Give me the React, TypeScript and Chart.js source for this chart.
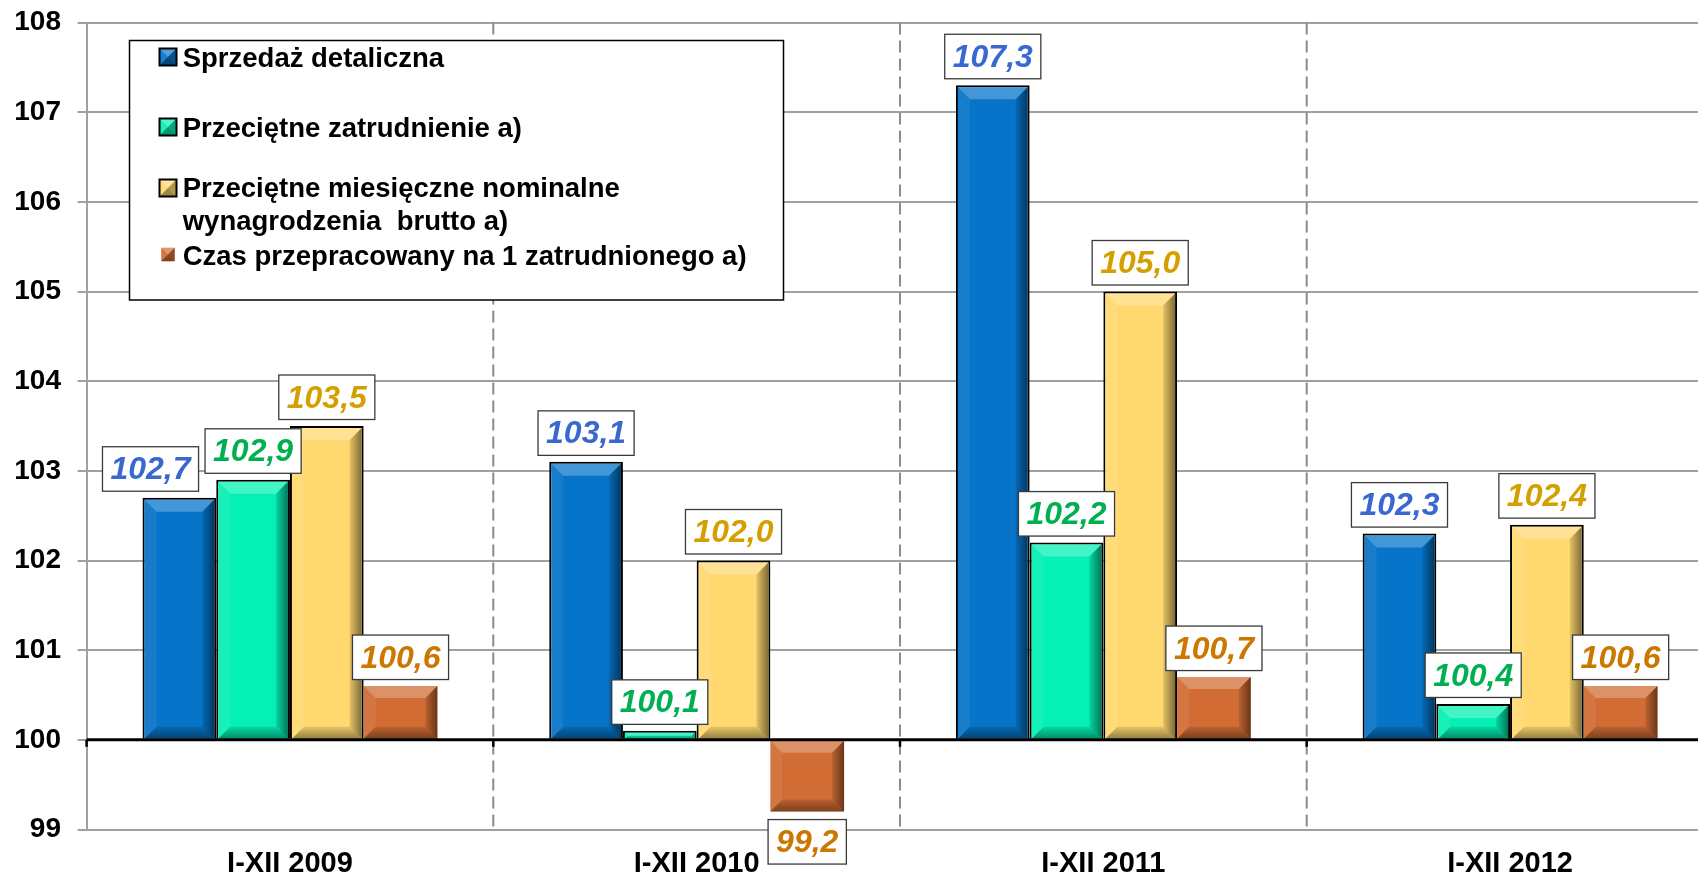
import React, { useEffect, useRef } from "react";
import { Chart, registerables } from "chart.js";

Chart.register(...registerables);

// ---------------- data ----------------
const categories = ["I-XII 2009", "I-XII 2010", "I-XII 2011", "I-XII 2012"];
const seriesNames: string[][] = [
  ["Sprzedaż detaliczna"],
  ["Przeciętne zatrudnienie a)"],
  ["Przeciętne miesięczne nominalne", "wynagrodzenia  brutto a)"],
  ["Czas przepracowany na 1 zatrudnionego a)"],
];
const retailSales = [102.7, 103.1, 107.3, 102.3];
const employment = [102.9, 100.1, 102.2, 100.4];
const wages = [103.5, 102.0, 105.0, 102.4];
const hoursWorked = [100.6, 99.2, 100.7, 100.6];
const yMin = 99;
const yMax = 108;
const baseValue = 100;

// ---------------- styles ----------------
const FONT = "'Liberation Sans', Arial, Helvetica, sans-serif";
const barColors = ["#0674C8", "#05F0B4", "#FFD970", "#D06C34"];
const labelColors = ["#3868D0", "#00B050", "#D4A000", "#CC7700"];
const barBorders = [2, 2, 2, 0];

const CANVAS_W = 1730;
const CANVAS_H = 878;

function poly(ctx: CanvasRenderingContext2D, pts: number[][]) {
  ctx.beginPath();
  ctx.moveTo(pts[0][0], pts[0][1]);
  for (let i = 1; i < pts.length; i++) ctx.lineTo(pts[i][0], pts[i][1]);
  ctx.closePath();
  ctx.fill();
}

function bevel(ctx: CanvasRenderingContext2D, l: number, t: number, r: number, b: number) {
  const s = Math.max(0, Math.min(12, (b - t) / 2, (r - l) / 2));
  if (s <= 0.5) return;
  ctx.save();
  ctx.fillStyle = "rgba(255,255,255,0.25)";
  poly(ctx, [[l, t], [r, t], [r - s, t + s], [l + s, t + s]]);
  ctx.fillStyle = "rgba(255,255,255,0.07)";
  poly(ctx, [[l, t], [l + s, t + s], [l + s, b - s], [l, b]]);
  let g = ctx.createLinearGradient(r - s, 0, r, 0);
  g.addColorStop(0, "rgba(0,0,0,0.1)");
  g.addColorStop(1, "rgba(0,0,0,0.5)");
  ctx.fillStyle = g;
  poly(ctx, [[r, t], [r, b], [r - s, b - s], [r - s, t + s]]);
  g = ctx.createLinearGradient(0, b - s, 0, b);
  g.addColorStop(0, "rgba(0,0,0,0.1)");
  g.addColorStop(1, "rgba(0,0,0,0.42)");
  ctx.fillStyle = g;
  poly(ctx, [[l, b], [r, b], [r - s, b - s], [l + s, b - s]]);
  ctx.restore();
}

function marker(ctx: CanvasRenderingContext2D, cx: number, cy: number, size: number, color: string, border: boolean) {
  const h = size / 2;
  const l = cx - h, r = cx + h, t = cy - h, b = cy + h;
  ctx.save();
  ctx.fillStyle = color;
  ctx.fillRect(l, t, size, size);
  ctx.fillStyle = "rgba(255,255,255,0.3)";
  poly(ctx, [[l, t], [r, t], [cx, cy]]);
  ctx.fillStyle = "rgba(255,255,255,0.08)";
  poly(ctx, [[l, t], [cx, cy], [l, b]]);
  ctx.fillStyle = "rgba(0,0,0,0.3)";
  poly(ctx, [[r, t], [r, b], [cx, cy]]);
  ctx.fillStyle = "rgba(0,0,0,0.38)";
  poly(ctx, [[l, b], [r, b], [cx, cy]]);
  if (border) {
    ctx.strokeStyle = "#000";
    ctx.lineWidth = 2;
    ctx.strokeRect(l, t, size, size);
  }
  ctx.restore();
}

const fmt = (v: number) => v.toFixed(1).replace(".", ",");

const decorPlugin = {
  id: "decor",
  beforeDatasetsDraw(chart: any) {
    const { ctx, chartArea } = chart;
    const n = chart.data.labels.length;
    const cw = (chartArea.right - chartArea.left) / n;
    ctx.save();
    ctx.strokeStyle = "#8c8c8c";
    ctx.lineWidth = 2;
    ctx.setLineDash([12, 6]);
    for (let i = 1; i < n; i++) {
      const px = chartArea.left + i * cw;
      ctx.beginPath();
      ctx.moveTo(px, chartArea.top);
      ctx.lineTo(px, chartArea.bottom);
      ctx.stroke();
    }
    ctx.restore();
  },
  afterDatasetsDraw(chart: any) {
    const { ctx, chartArea } = chart;
    const yScale = chart.scales.y;
    const y100 = yScale.getPixelForValue(baseValue);
    const n = chart.data.labels.length;
    const cw = (chartArea.right - chartArea.left) / n;

    // bevels
    chart.data.datasets.forEach((ds: any, di: number) => {
      const meta = chart.getDatasetMeta(di);
      const bw = barBorders[di];
      meta.data.forEach((bar: any) => {
        const p = bar.getProps(["x", "y", "base", "width"], true);
        const l = p.x - p.width / 2 + bw;
        const r = p.x + p.width / 2 - bw;
        let t = Math.min(p.y, p.base);
        let b = Math.max(p.y, p.base);
        if (p.y <= p.base) t += bw; else b -= bw;
        bevel(ctx, l, t, r, b);
      });
    });

    // black axis line at 100 and its tick marks
    ctx.save();
    ctx.strokeStyle = "#000";
    ctx.lineWidth = 3;
    ctx.beginPath();
    ctx.moveTo(chartArea.left, y100);
    ctx.lineTo(chartArea.right, y100);
    ctx.stroke();
    ctx.lineWidth = 2.5;
    for (let i = 0; i < n; i++) {
      const px = chartArea.left + i * cw;
      ctx.beginPath();
      ctx.moveTo(px, y100);
      ctx.lineTo(px, y100 + 7);
      ctx.stroke();
    }
    ctx.restore();

    // data labels
    ctx.save();
    ctx.font = `italic bold 32px ${FONT}`;
    const perCat: any[][] = [];
    chart.data.datasets.forEach((ds: any, di: number) => {
      const meta = chart.getDatasetMeta(di);
      meta.data.forEach((bar: any, ci: number) => {
        const p = bar.getProps(["x", "y", "base", "width"], true);
        const v = ds.data[ci];
        const txt = fmt(v);
        const w = ctx.measureText(txt).width + 16;
        const h = 44.5;
        let top: number;
        if (v >= baseValue) top = Math.min(p.y, p.base) - 6.5 - h;
        else top = Math.max(p.y, p.base) + 8;
        (perCat[ci] = perCat[ci] || []).push({ x: p.x - w / 2, y: top, w, h, txt, color: labelColors[di] });
      });
    });
    perCat.forEach((boxes) => {
      for (let i = boxes.length - 2; i >= 0; i--) {
        const a = boxes[i], b = boxes[i + 1];
        const ox = a.x < b.x + b.w && a.x + a.w > b.x;
        const oy = a.y < b.y + b.h && a.y + a.h > b.y;
        if (ox && oy) a.x = b.x - 6.5 - a.w;
      }
      boxes.forEach((bx: any) => {
        ctx.fillStyle = "#fff";
        ctx.fillRect(bx.x, bx.y, bx.w, bx.h);
        ctx.strokeStyle = "#3a3a3a";
        ctx.lineWidth = 1.3;
        ctx.strokeRect(bx.x, bx.y, bx.w, bx.h);
        ctx.fillStyle = bx.color;
        ctx.textAlign = "center";
        ctx.textBaseline = "middle";
        ctx.fillText(bx.txt, bx.x + bx.w / 2, bx.y + bx.h / 2 + 1.5);
      });
    });
    ctx.restore();
  },
  afterDraw(chart: any) {
    const { ctx } = chart;
    // legend box
    const lx = 129.5, ly = 40.5, lw = 654, lh = 259.5;
    ctx.save();
    ctx.fillStyle = "#fff";
    ctx.fillRect(lx, ly, lw, lh);
    ctx.strokeStyle = "#000";
    ctx.lineWidth = 1.5;
    ctx.strokeRect(lx, ly, lw, lh);
    const markerY = [57, 127, 188, 254.5];
    const baselines = [[66.5], [136.5], [197, 229.5], [265]];
    const textX = 182.7;
    ctx.font = `bold 27.5px ${FONT}`;
    ctx.textAlign = "left";
    ctx.textBaseline = "alphabetic";
    seriesNames.forEach((lines, i) => {
      const bordered = barBorders[i] > 0;
      marker(ctx, 168, markerY[i], bordered ? 17 : 13.5, barColors[i], bordered);
      ctx.fillStyle = "#000";
      lines.forEach((ln, k) => ctx.fillText(ln, textX, baselines[i][k]));
    });
    ctx.restore();
  },
};

export default function App() {
  const ref = useRef<HTMLCanvasElement>(null);
  useEffect(() => {
    const seriesData = [retailSales, employment, wages, hoursWorked];
    const chart = new Chart(ref.current as HTMLCanvasElement, {
      type: "bar",
      data: {
        labels: categories,
        datasets: seriesData.map((d, i) => ({
          label: seriesNames[i].join(" "),
          data: d,
          base: baseValue,
          backgroundColor: barColors[i],
          borderColor: "#000",
          borderWidth: barBorders[i],
          categoryPercentage: 0.725,
          barPercentage: 1,
        })),
      } as any,
      options: {
        responsive: false,
        animation: false,
        layout: { padding: { left: 0, right: CANVAS_W - 1713.4, top: 22.5, bottom: 0 } },
        plugins: { legend: { display: false }, tooltip: { enabled: false } },
        scales: {
          x: {
            type: "category",
            offset: true,
            grid: { display: false, drawTicks: false },
            border: { display: false },
            ticks: {
              color: "#000",
              font: { family: FONT, size: 29, weight: "bold" },
              padding: 17,
              maxRotation: 0,
              autoSkip: false,
            },
            afterFit: (s: any) => {
              s.height = 48.5;
              s.paddingLeft = 0;
              s.paddingRight = 0;
            },
          },
          y: {
            min: yMin,
            max: yMax,
            ticks: {
              stepSize: 1,
              color: "#000",
              font: { family: FONT, size: 28, weight: "bold" },
              padding: 16.6,
            },
            grid: {
              color: "#a0a0a0",
              lineWidth: 2,
              tickColor: "#a0a0a0",
              tickLength: 9,
            },
            border: { display: true, color: "#a0a0a0", width: 2 },
            afterFit: (s: any) => {
              s.width = 86.6;
              s.paddingTop = 0;
              s.paddingBottom = 0;
            },
          },
        },
      } as any,
      plugins: [decorPlugin],
    });
    return () => chart.destroy();
  }, []);
  return (
    <div
      style={{
        position: "fixed",
        left: 0,
        top: 0,
        width: 1698,
        height: 878,
        overflow: "hidden",
        background: "#fff",
      }}
    >
      <canvas ref={ref} width={CANVAS_W} height={CANVAS_H} style={{ display: "block", width: CANVAS_W, height: CANVAS_H }} />
    </div>
  );
}
